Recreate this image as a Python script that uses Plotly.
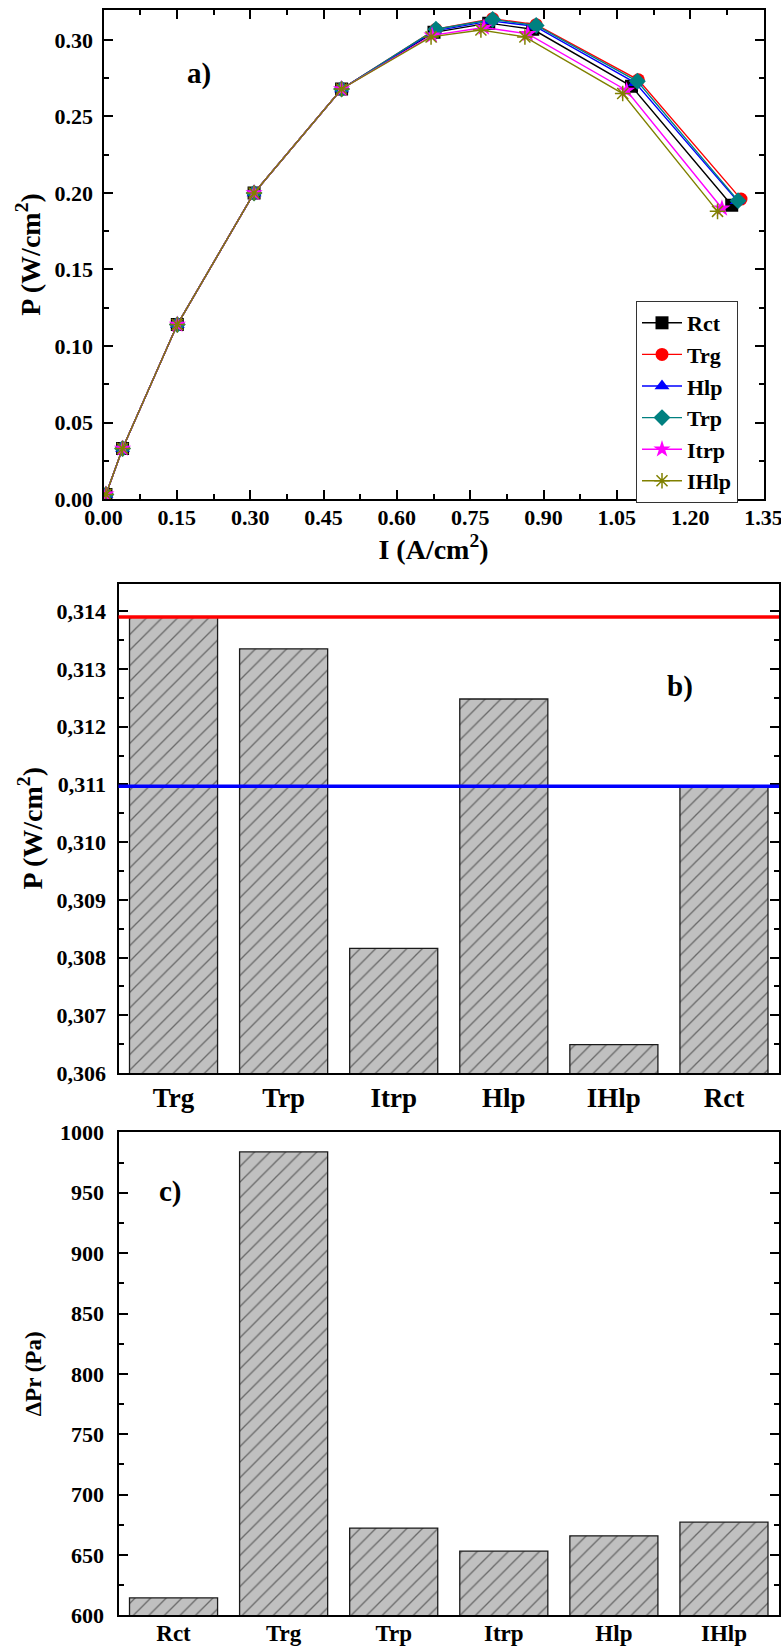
import plotly.graph_objects as go

# ---------------- (a) P-I curves ----------------
series_names = ["Rct", "Trg", "Hlp", "Trp", "Itrp", "IHlp"]
series_colors = ["#000000", "#ff0000", "#0000ff", "#008080", "#ff00ff", "#808000"]
series_symbols = ["square", "circle", "triangle-up", "diamond", "star", "asterisk-open"]

i_low = [0.005, 0.039, 0.151, 0.308, 0.487]
p_low = [0.003, 0.033, 0.114, 0.200, 0.268]

i_rct = i_low + [0.676, 0.788, 0.878, 1.080, 1.285]
p_rct = p_low + [0.305, 0.3110, 0.307, 0.2697, 0.192]
i_trg = i_low + [0.680, 0.796, 0.885, 1.094, 1.304]
p_trg = p_low + [0.307, 0.3139, 0.310, 0.274, 0.196]
i_hlp = i_low + [0.678, 0.792, 0.882, 1.088, 1.296]
p_hlp = p_low + [0.306, 0.3125, 0.309, 0.272, 0.195]
i_trp = i_low + [0.680, 0.796, 0.885, 1.092, 1.298]
p_trp = p_low + [0.307, 0.3134, 0.3095, 0.273, 0.195]
i_itrp = i_low + [0.672, 0.778, 0.868, 1.070, 1.265]
p_itrp = p_low + [0.303, 0.3082, 0.304, 0.267, 0.190]
i_ihlp = i_low + [0.670, 0.772, 0.862, 1.062, 1.256]
p_ihlp = p_low + [0.302, 0.3065, 0.302, 0.265, 0.188]

curves_i = [i_rct, i_trg, i_hlp, i_trp, i_itrp, i_ihlp]
curves_p = [p_rct, p_trg, p_hlp, p_trp, p_itrp, p_ihlp]

# ---------------- (b) peak power ----------------
peak_cats = ["Trg", "Trp", "Itrp", "Hlp", "IHlp", "Rct"]
peak_vals = [0.3139, 0.31335, 0.30816, 0.31248, 0.30649, 0.31097]
peak_ticks = [0.306, 0.307, 0.308, 0.309, 0.310, 0.311, 0.312, 0.313, 0.314]
peak_ticktext = ["0,306", "0,307", "0,308", "0,309", "0,310", "0,311", "0,312", "0,313", "0,314"]

# ---------------- (c) pressure drop ----------------
dp_cats = ["Rct", "Trg", "Trp", "Itrp", "Hlp", "IHlp"]
dp_vals = [614.5, 983.8, 672.3, 653.2, 665.9, 677.2]

W, H = 781, 1647
FONT = "Liberation Serif"


def px_x(v):
    return v / W


def px_y(v):
    return 1 - v / H


fig = go.Figure()

for name, col, sym, xs, ys in zip(series_names, series_colors, series_symbols, curves_i, curves_p):
    marker = dict(symbol=sym, size=13, color=col, line=dict(width=0))
    if sym == "asterisk-open":
        marker = dict(symbol=sym, size=13, color=col, line=dict(width=1.5, color=col))
    fig.add_trace(go.Scatter(
        x=xs, y=ys, name=name, mode="lines+markers",
        line=dict(color=col, width=1.4), marker=marker,
        xaxis="x", yaxis="y",
    ))

bar_marker = dict(
    color="#c0c0c0",
    line=dict(color="#1a1a1a", width=1.3),
    pattern=dict(shape="/", fgcolor="#111111", size=11, solidity=0.12, fillmode="overlay"),
)

fig.add_trace(go.Bar(x=peak_cats, y=peak_vals, marker=bar_marker, showlegend=False,
                     xaxis="x2", yaxis="y2"))
fig.add_trace(go.Bar(x=dp_cats, y=dp_vals, marker=bar_marker, showlegend=False,
                     xaxis="x3", yaxis="y3"))

# reference lines at the best (Trg) and baseline (Rct) peak power
best_val = peak_vals[peak_cats.index("Trg")]
base_val = peak_vals[peak_cats.index("Rct")]
for val, col in [(best_val, "#ff0000"), (base_val, "#0000ff")]:
    fig.add_shape(type="line", xref="x2 domain", yref="y2", x0=0, x1=1, y0=val, y1=val,
                  line=dict(color=col, width=3.5), layer="above")

TICKFONT = dict(family=FONT, size=22, color="black", weight="bold")
axis_common = dict(
    showline=True, linecolor="black", linewidth=2, showgrid=False, zeroline=False,
    tickcolor="black", ticklabeloverflow="allow", automargin=False,
)

ya_dom = [px_y(499), px_y(10)]
xa_dom = [px_x(103.5), px_x(763.5)]
xb_dom = [px_x(118.5), px_x(779)]
yb_dom = [px_y(1073), px_y(583.6)]
yc_dom = [px_y(1615.4), px_y(1132.4)]

fig.update_layout(
    width=W, height=H, autosize=False,
    margin=dict(l=0, r=0, t=0, b=0),
    paper_bgcolor="white", plot_bgcolor="white",
    font=dict(family=FONT, color="black", size=22, weight="bold"),
    bargap=0.2,
    xaxis=dict(
        **axis_common, domain=xa_dom, anchor="y", range=[0, 1.35],
        tickmode="array", tickvals=[0, 0.15, 0.30, 0.45, 0.60, 0.75, 0.90, 1.05, 1.20, 1.35],
        tickformat=".2f", ticks="inside", ticklen=9, tickwidth=2, mirror="ticks",
        tickfont=TICKFONT, ticklabelstandoff=-2,
        minor=dict(dtick=0.075, tick0=0, ticks="inside", ticklen=5, tickwidth=1.5, tickcolor="black"),
        title=dict(text="I (A/cm<sup>2</sup>)", font=dict(family=FONT, size=28, weight="bold"), standoff=10),
    ),
    yaxis=dict(
        **axis_common, domain=ya_dom, anchor="x", range=[0, 0.3196],
        tickmode="array", tickvals=[0, 0.05, 0.10, 0.15, 0.20, 0.25, 0.30],
        tickformat=".2f", ticks="inside", ticklen=9, tickwidth=2, mirror="ticks",
        tickfont=TICKFONT, ticklabelstandoff=4,
        minor=dict(dtick=0.025, tick0=0, ticks="inside", ticklen=5, tickwidth=1.5, tickcolor="black"),
        title=dict(text="P (W/cm<sup>2</sup>)", font=dict(family=FONT, size=28, weight="bold"), standoff=6),
    ),
    xaxis2=dict(
        **axis_common, domain=xb_dom, anchor="y2", type="category", range=[-0.5, 5.5],
        ticks="", mirror=True,
        tickfont=dict(family=FONT, size=27, color="black", weight="bold"),
    ),
    yaxis2=dict(
        **axis_common, domain=yb_dom, anchor="x2", range=[0.306, 0.31448],
        tickmode="array", tickvals=peak_ticks, ticktext=peak_ticktext,
        ticks="inside", ticklen=9, tickwidth=2, mirror="ticks",
        tickfont=TICKFONT, ticklabelstandoff=6,
        minor=dict(dtick=0.0005, tick0=0.306, ticks="inside", ticklen=5, tickwidth=1.5, tickcolor="black"),
        title=dict(text="P (W/cm<sup>2</sup>)", font=dict(family=FONT, size=28, weight="bold"), standoff=6),
    ),
    xaxis3=dict(
        **axis_common, domain=xb_dom, anchor="y3", type="category", range=[-0.5, 5.5],
        ticks="", mirror=True, ticklabelstandoff=-4,
        tickfont=dict(family=FONT, size=23, color="black", weight="bold"),
    ),
    yaxis3=dict(
        **axis_common, domain=yc_dom, anchor="x3", range=[600, 1000],
        tickmode="array", tickvals=[600, 650, 700, 750, 800, 850, 900, 950, 1000],
        ticks="inside", ticklen=9, tickwidth=2, mirror="ticks",
        tickfont=TICKFONT, ticklabelstandoff=8,
        minor=dict(dtick=25, tick0=600, ticks="inside", ticklen=5, tickwidth=1.5, tickcolor="black"),
        title=dict(text="ΔPr (Pa)", font=dict(family=FONT, size=23, weight="bold"), standoff=12),
    ),
    legend=dict(
        x=px_x(636), y=px_y(301), xanchor="left", yanchor="top",
        bgcolor="white", bordercolor="#333333", borderwidth=1,
        font=dict(family=FONT, size=22, color="black", weight="bold"),
        itemwidth=40, tracegroupgap=0,
    ),
)

for txt, xr, yr, xv, yv in [
    ("a)", "x", "y", 0.195, 0.278),
    ("b)", "x2 domain", "y2", 0.873, 0.3127),
    ("c)", "x3 domain", "y3", 0.058, 951),
]:
    fig.add_annotation(text=txt, xref=xr, yref=yr, x=xv, y=yv, showarrow=False,
                       font=dict(family=FONT, size=29, color="black", weight="bold"))

fig.write_html("out.html")
